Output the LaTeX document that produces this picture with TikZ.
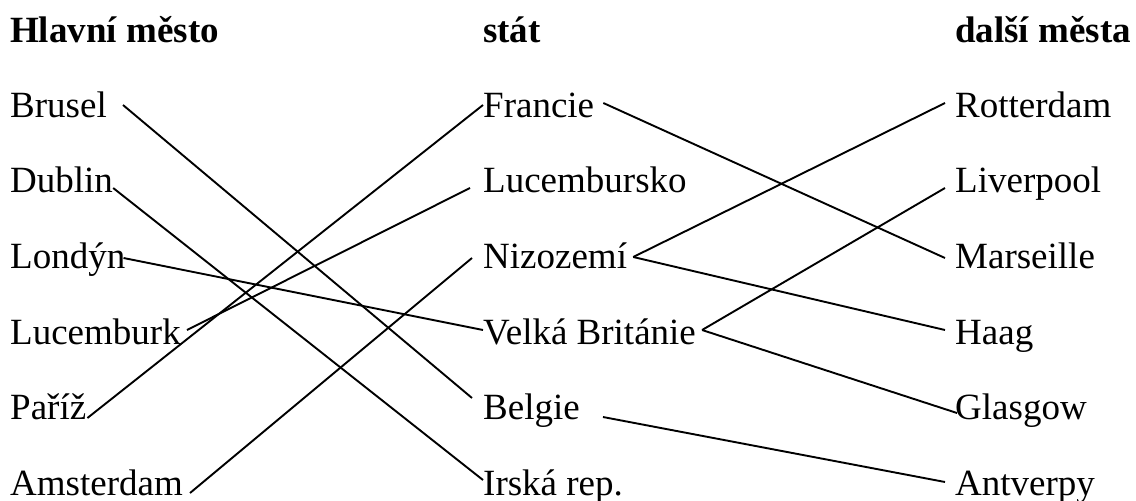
\documentclass[tikz,border=0pt]{standalone}
\usepackage{fontspec}
\setmainfont{Liberation Serif}
\begin{document}
\begin{tikzpicture}[x=1pt,y=1pt,
  lbl/.style={anchor=base west,inner sep=0pt,font=\fontsize{37}{44}\selectfont},
  hdr/.style={lbl,font=\fontsize{37}{44}\selectfont\bfseries},
  conn/.style={line width=1.9pt}]
\useasboundingbox (0,0) rectangle (1136,-501);
% headings
\node[hdr] (h1) at (10,-42) {Hlavní město};
\node[hdr] (h2) at (483,-42) {stát};
\node[hdr] (h3) at (955,-42) {další města};
% column 1
\node[lbl] (brusel) at (10,-117) {Brusel};
\node[lbl] (dublin) at (10,-192.5) {Dublin};
\node[lbl] (londyn) at (10,-268) {Londýn};
\node[lbl] (lucemburk) at (10,-344) {Lucemburk};
\node[lbl] (pariz) at (10,-419.5) {Paříž};
\node[lbl] (amsterdam) at (10,-495) {Amsterdam};
% column 2
\node[lbl] (francie) at (483,-117) {Francie};
\node[lbl] (lucembursko) at (483,-192.5) {Lucembursko};
\node[lbl] (nizozemi) at (483,-268) {Nizozemí};
\node[lbl] (vb) at (483,-344) {Velká Británie};
\node[lbl] (belgie) at (483,-419.5) {Belgie};
\node[lbl] (irsko) at (483,-495) {Irská rep.};
% column 3
\node[lbl] (rotterdam) at (955,-117) {Rotterdam};
\node[lbl] (liverpool) at (955,-192.5) {Liverpool};
\node[lbl] (marseille) at (955,-268) {Marseille};
\node[lbl] (haag) at (955,-344) {Haag};
\node[lbl] (glasgow) at (955,-419.5) {Glasgow};
\node[lbl] (antverpy) at (955,-495) {Antverpy};
% connectors column 1 -> 2
\draw[conn] ([shift={(16,12)}]brusel.base east) -- ([shift={(-11,21.5)}]belgie.base west);
\draw[conn] ([shift={(0,4.5)}]dublin.base east) -- ([shift={(0,15)}]irsko.base west);
\draw[conn] ([shift={(-2,10)}]londyn.base east) -- ([shift={(0,14)}]vb.base west);
\draw[conn] ([shift={(6,14)}]lucemburk.base east) -- ([shift={(-13,4.5)}]lucembursko.base west);
\draw[conn] ([shift={(1,1.5)}]pariz.base east) -- ([shift={(0,12)}]francie.base west);
\draw[conn] ([shift={(7,2)}]amsterdam.base east) -- ([shift={(-11,10)}]nizozemi.base west);
% connectors column 2 -> 3
\draw[conn] ([shift={(9,14)}]francie.base east) -- ([shift={(-10,10)}]marseille.base west);
\draw[conn] ([shift={(6,11)}]nizozemi.base east) -- ([shift={(-10,14)}]rotterdam.base west);
\draw[conn] ([shift={(6,11)}]nizozemi.base east) -- ([shift={(-10,14)}]haag.base west);
\draw[conn] ([shift={(6,14)}]vb.base east) -- ([shift={(-10,4.5)}]liverpool.base west);
\draw[conn] ([shift={(6,14)}]vb.base east) -- ([shift={(2,6.5)}]glasgow.base west);
\draw[conn] ([shift={(23,2.5)}]belgie.base east) -- ([shift={(-10,13)}]antverpy.base west);
\end{tikzpicture}
\end{document}
